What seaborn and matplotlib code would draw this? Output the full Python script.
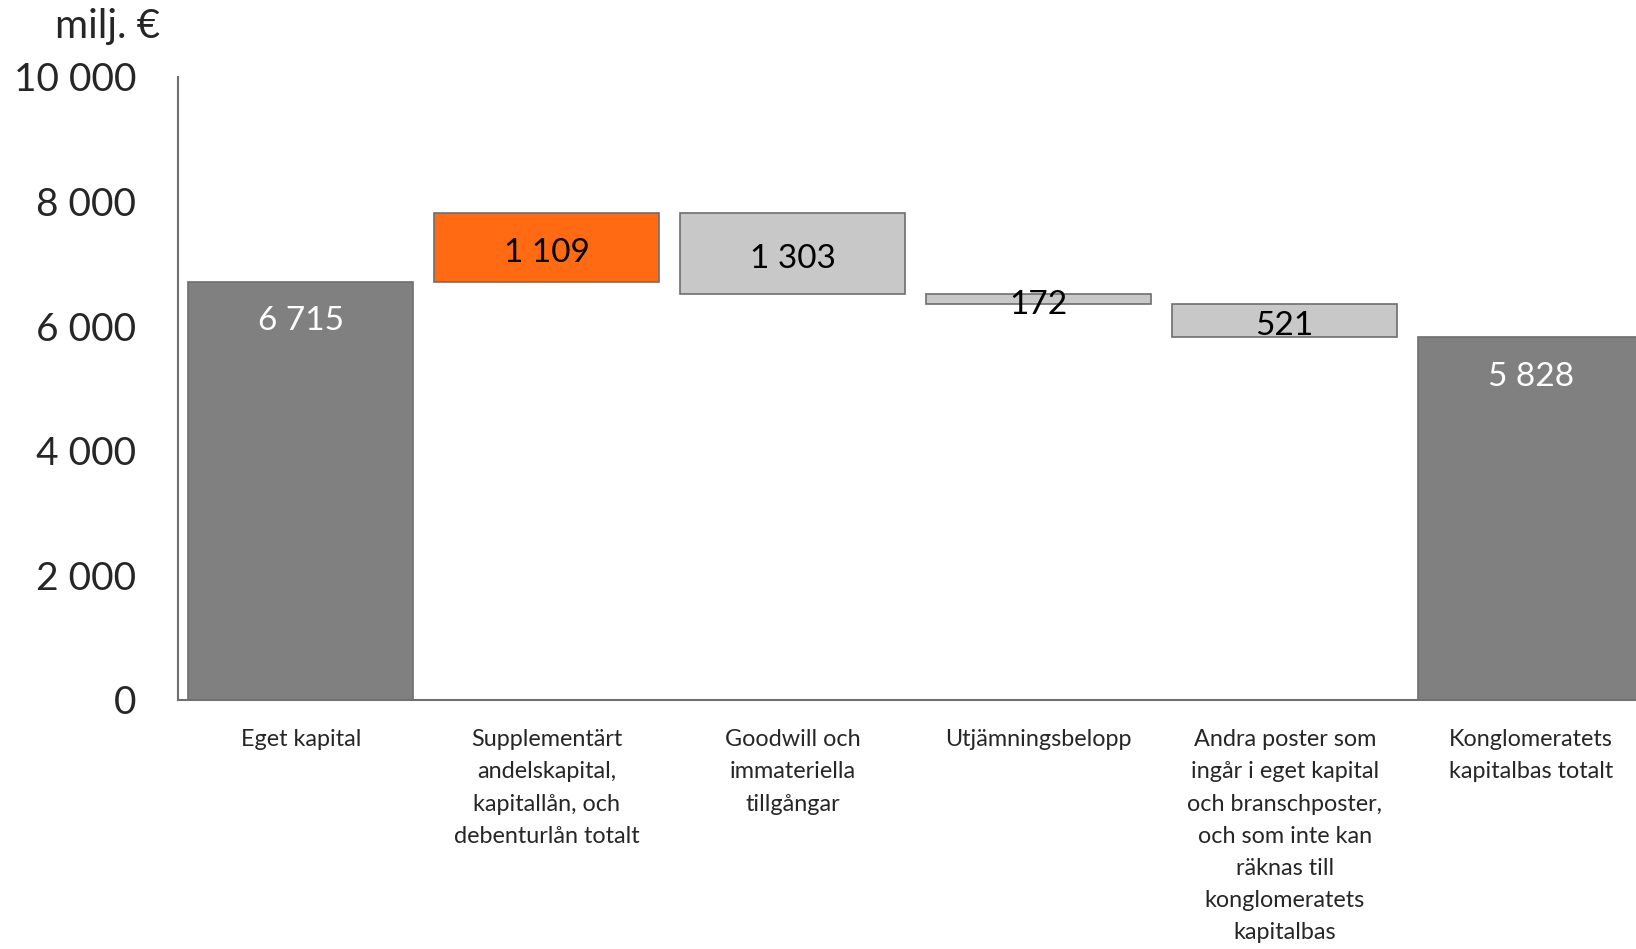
import matplotlib
matplotlib.use("Agg")
import matplotlib.pyplot as plt
import seaborn as sns
import pandas as pd

# data (milj. €)
categories = [
    "Eget kapital",
    "Supplementärt\nandelskapital,\nkapitallån, och\ndebenturlån totalt",
    "Goodwill och\nimmateriella\ntillgångar",
    "Utjämningsbelopp",
    "Andra poster som\ningår i eget kapital\noch branschposter,\noch som inte kan\nräknas till\nkonglomeratets\nkapitalbas",
    "Konglomeratets\nkapitalbas totalt",
]
changes = [6715, 1109, -1303, -172, -521, 5828]
kinds = ["total", "increase", "decrease", "decrease", "decrease", "total"]
y_ticks = [0, 2000, 4000, 6000, 8000, 10000]

colors = {"total": "#808080", "increase": "#FF6A13", "decrease": "#C8C8C8"}
label_colors = {"total": "white", "increase": "black", "decrease": "black"}

# waterfall geometry
bottoms, heights = [], []
running = 0
for v, k in zip(changes, kinds):
    if k == "total":
        bottoms.append(0)
        heights.append(v)
        running = v
    elif v >= 0:
        bottoms.append(running)
        heights.append(v)
        running += v
    else:
        running += v
        bottoms.append(running)
        heights.append(-v)

df = pd.DataFrame({"cat": categories, "height": heights, "bottom": bottoms, "kind": kinds})

def fmt(v):
    return f"{abs(v):,}".replace(",", " ")

sns.set_theme(style="white")
plt.rcParams["font.family"] = ["Lato", "DejaVu Sans"]

fig = plt.figure(figsize=(16.36, 9.49), dpi=100)
ax = fig.add_axes([0.1088, 0.2624, 0.902, 0.6565])

sns.barplot(data=df, x="cat", y="height", hue="cat", palette=[colors[k] for k in kinds],
            saturation=1, width=0.915, edgecolor="#6E6E6E", linewidth=1.2,
            legend=False, ax=ax)

# lift the floating bars onto their bases
for patch, b in zip(ax.patches, bottoms):
    patch.set_y(b)

for i, (v, k, b, h) in enumerate(zip(changes, kinds, bottoms, heights)):
    if k == "total":
        ypos = b + h - 640
    else:
        ypos = b + h / 2 - 90
    ax.text(i, ypos, fmt(v), ha="center", va="center",
            color=label_colors[k], fontsize=24)

ax.set_xlim(-0.5, 5.5)
ax.set_ylim(0, 10000)
ax.set_yticks(y_ticks)
ax.set_yticklabels([fmt(t) for t in y_ticks], fontsize=28)
ax.set_xticks(range(len(categories)))
ax.set_xticklabels(categories, fontsize=16.8, linespacing=1.66)
ax.tick_params(axis="y", length=0, pad=30)
ax.tick_params(axis="x", length=0, pad=21)
ax.set_xlabel("")
ax.set_ylabel("")

for side in ["top", "right"]:
    ax.spines[side].set_visible(False)
for side in ["left", "bottom"]:
    ax.spines[side].set_color("#707070")
    ax.spines[side].set_linewidth(1.5)

fig.text(0.098, 0.9726, "milj. €", ha="right", va="center", fontsize=29)

fig.savefig("out.png", dpi=100, facecolor="white")
